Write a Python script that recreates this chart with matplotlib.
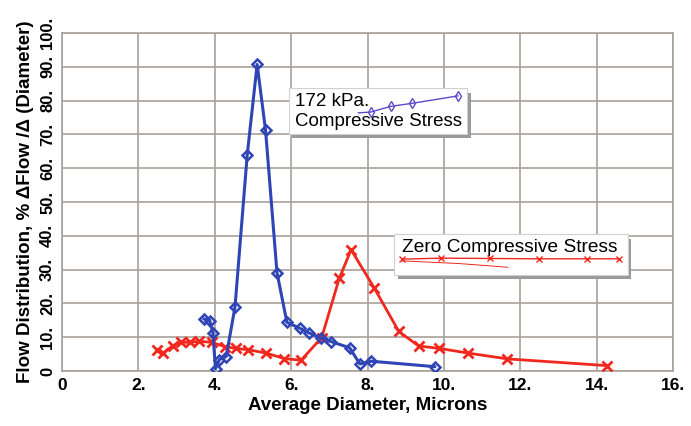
import matplotlib.pyplot as plt
from matplotlib.patches import Rectangle
from matplotlib.lines import Line2D

plt.rcParams['font.family'] = ['Liberation Sans', 'DejaVu Sans']

# 172 kPa compressive stress (blue, diamonds)
x_172 = [3.72, 3.87, 3.95, 4.02, 4.12, 4.30, 4.53, 4.85, 5.11, 5.33, 5.63, 5.89,
         6.22, 6.46, 6.78, 7.05, 7.53, 7.80, 8.10, 9.76]
y_172 = [15.4, 14.9, 11.3, 0.7, 3.4, 4.3, 18.9, 63.9, 90.7, 71.3, 29.1, 14.4,
         12.7, 11.3, 9.8, 8.7, 6.9, 2.1, 2.9, 1.3]

# zero compressive stress (red, crosses)
x_zero = [2.48, 2.65, 2.90, 3.11, 3.34, 3.60, 3.92, 4.27, 4.55, 4.88, 5.35, 5.82,
          6.26, 6.80, 7.26, 7.57, 8.18, 8.82, 9.34, 9.88, 10.64, 11.66, 14.27]
y_zero = [6.3, 5.3, 7.5, 8.5, 8.5, 8.8, 8.5, 7.2, 6.7, 6.3, 5.3, 3.7,
          3.2, 9.9, 27.4, 35.9, 24.5, 11.7, 7.4, 6.7, 5.3, 3.6, 1.6]

x_ticks = [0, 2, 4, 6, 8, 10, 12, 14, 16]
x_labels = ['0', '2.', '4.', '6.', '8.', '10.', '12.', '14.', '16.']
y_ticks = [0, 10, 20, 30, 40, 50, 60, 70, 80, 90, 100]
y_labels = ['0', '10.', '20.', '30.', '40.', '50.', '60.', '70.', '80.', '90.', '100.']

blue = '#2f45b5'
red = '#f0281e'

fig = plt.figure(figsize=(6.91, 4.26), dpi=100)
ax = fig.add_axes([0.0897, 0.129, 0.8843, 0.7935])

ax.plot(x_zero, y_zero, color=red, lw=2, marker='x', ms=7, mew=2, zorder=3)
ax.plot(x_172, y_172, color=blue, lw=2.2, marker='D', ms=5, mfc='none', mew=1.8, zorder=4)

ax.set_xlim(0, 16)
ax.set_ylim(0, 100)
ax.set_xticks(x_ticks)
ax.set_xticklabels(x_labels, fontsize=12.5, fontweight='bold')
ax.set_yticks(y_ticks)
ax.set_yticklabels(y_labels, fontsize=12, fontweight='bold', rotation=90, va='center')
ax.tick_params(length=0, pad=5)
ax.grid(True, color='#a8a09a', lw=1.2)
ax.set_axisbelow(True)
for s in ax.spines.values():
    s.set_color('#a8a09a')
    s.set_linewidth(1.2)

ax.set_xlabel('Average Diameter, Microns', fontsize=13.5, fontweight='bold', labelpad=3)
ax.set_ylabel('Flow Distribution, % ΔFlow /Δ (Diameter)', fontsize=13.5,
              fontweight='bold', labelpad=4)

# annotation boxes with a hand-drawn legend sample
def note_box(x0, y0, w, h):
    ax.add_patch(Rectangle((x0 + 0.006, y0 - 0.012), w, h, transform=ax.transAxes,
                           fc='#9a9a9a', ec='none', zorder=5))
    ax.add_patch(Rectangle((x0, y0), w, h, transform=ax.transAxes,
                           fc='white', ec='#d0d0d0', lw=0.8, zorder=6))

note_box(0.371, 0.702, 0.292, 0.134)
ax.text(0.381, 0.797, '172 kPa.', transform=ax.transAxes, fontsize=13.5, va='center', zorder=7)
ax.text(0.381, 0.738, 'Compressive Stress', transform=ax.transAxes, fontsize=13.5,
        va='center', zorder=7)
ax.add_line(Line2D([0.485, 0.505, 0.538, 0.573, 0.648], [0.764, 0.766, 0.783, 0.792, 0.814],
                   transform=ax.transAxes, color='#5a4cc8', lw=1, marker='d', ms=5.5,
                   mfc='none', markevery=[1, 2, 3, 4], zorder=7))

note_box(0.544, 0.284, 0.382, 0.12)
ax.text(0.556, 0.366, 'Zero Compressive Stress', transform=ax.transAxes, fontsize=13.8,
        va='center', zorder=7)
ax.add_line(Line2D([0.556, 0.62, 0.7, 0.78, 0.86, 0.912], [0.331, 0.334, 0.333, 0.332, 0.332, 0.332],
                   transform=ax.transAxes, color=red, lw=1, marker='x', ms=5, zorder=7))
ax.add_line(Line2D([0.556, 0.65, 0.73], [0.326, 0.318, 0.307], transform=ax.transAxes,
                   color=red, lw=0.7, zorder=7))

fig.savefig('out.png', dpi=100)
